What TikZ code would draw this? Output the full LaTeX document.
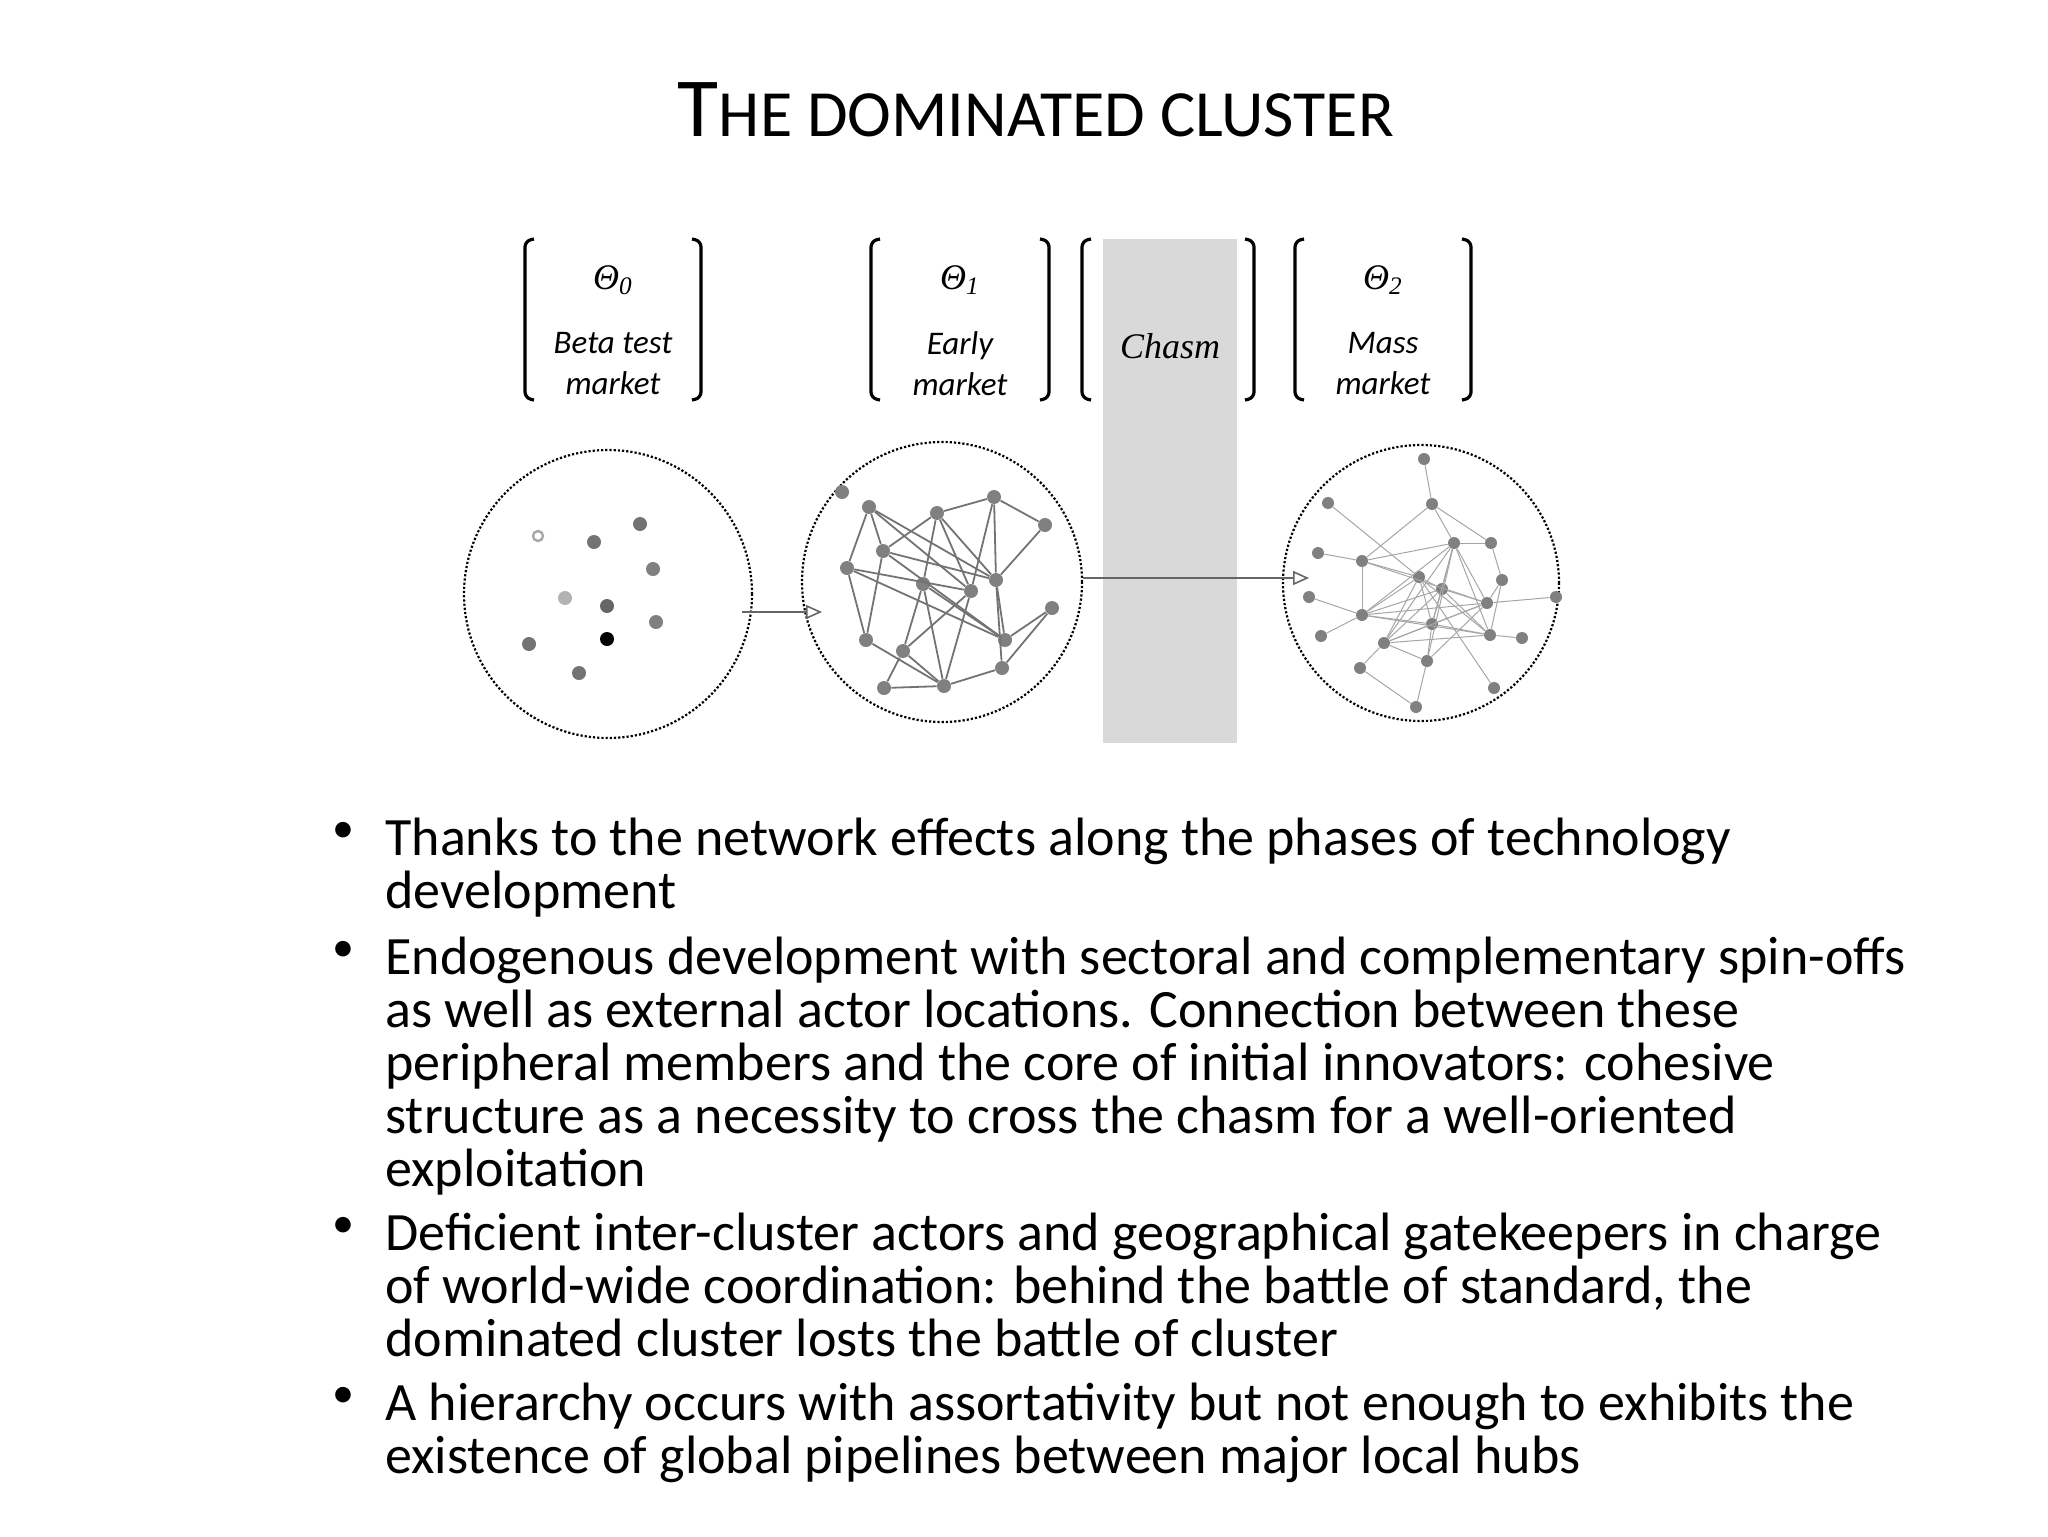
\documentclass[tikz,border=0pt]{standalone}
\usepackage{fontspec}
\setmainfont{Carlito}
\newfontfamily\thetafont{Liberation Serif}
\usetikzlibrary{arrows.meta}
\tikzset{
  dot/.style={circle,fill=black!50,inner sep=0pt,minimum size=7pt},
  sdot/.style={circle,fill=black!50,inner sep=0pt,minimum size=6pt},
  cloud/.style={circle,draw,densely dotted,line width=1.1pt,inner sep=0pt},
  brk/.style={line width=1.6pt,rounded corners=3pt},
  flow/.style={draw=black!60,line width=0.8pt,-{Triangle[open,length=8pt,width=7pt]}},
  phase/.style={font=\fontsize{16.5}{20.5}\itshape,align=center},
  theta/.style={font=\fontsize{18}{20}\thetafont\itshape},
  bul/.style={anchor=north west,inner sep=0pt,align=left,font=\fontsize{27}{26.4}\selectfont}
}
\begin{document}
\begin{tikzpicture}[x=0.5pt,y=0.5pt,yscale=-1,xscale=1]
\useasboundingbox (0,0) rectangle (2048,1536);

% Title
\node (title) at (1036,110) {\fontsize{42}{46}\selectfont T\fontsize{33}{36}\selectfont HE DOMINATED CLUSTER};

%Shape: Chasm band
\fill[black!15] (1103,239) rectangle (1237,743);

% Brackets
\foreach \l/\r in {525/701,871/1049,1082/1254,1295/1471}{
  \draw[brk] (\l+9,239) -- (\l,241) -- (\l,398) -- (\l+9,400);
  \draw[brk] (\r-9,239) -- (\r,241) -- (\r,398) -- (\r-9,400);
}
% Text Node
\node[theta] (th0) at (613,280) {Θ\textsubscript{0}};
\node[theta] (th1) at (960,280) {Θ\textsubscript{1}};
\node[theta] (th2) at (1383,280) {Θ\textsubscript{2}};
\node[phase] (beta) at (613,364) {Beta test\\market};
\node[phase] (early) at (960,364) {Early\\market};
\node[phase] (mass) at (1383,364) {Mass\\market};
\node[font=\fontsize{18}{20}\thetafont\itshape] (chasm) at (1170,346) {Chasm};

% Clouds
\node[cloud,minimum size=144pt] (c0) at (608,594) {};
\node[cloud,minimum size=140pt] (c1) at (942,582) {};
\node[cloud,minimum size=138pt] (c2) at (1421,583) {};
\coordinate (a0) at (742,612);
\coordinate (a1) at (822,612);
\coordinate (a2) at (1309,578);
\draw[flow] (a0) -- (a1);
\draw[flow] (c1.east |- a2) -- (a2);

% Beta test dots
\node[circle,draw=black!35,line width=1.2pt,inner sep=0pt,minimum size=5pt] (q1) at (538,536) {};
\foreach \n/\x/\y/\c in {2/594/542/55,3/640/524/55,4/653/569/50,5/565/598/30,6/607/606/60,7/656/622/50,8/529/644/55,9/607/639/100,10/579/673/55}
  \node[circle,fill=black!\c,inner sep=0pt,minimum size=7pt] (q\n) at (\x,\y) {};

% Early market network
\foreach \n/\x/\y in {a/842/492,b/869/507,c/937/513,d/994/497,e/1045/525,f/883/551,g/847/568,h/923/584,i/971/591,j/996/580,k/1052/608,l/866/640,m/903/651,n/1005/640,o/1002/668,p/884/688,q/944/686}
  \node[dot] (e\n) at (\x,\y) {};
\foreach \a/\b in {b/g,b/f,b/i,c/f,c/h,c/i,c/j,c/d,d/e,d/i,d/j,e/j,f/l,f/j,f/n,g/i,g/l,g/n,h/m,h/q,h/n,i/m,i/q,j/n,j/o,k/n,k/o,l/q,m/p,m/q,p/q,q/o,b/j}
  \draw[black!55,line width=0.9pt] (e\a) -- (e\b);

% Mass market network
\foreach \n/\x/\y in {A/1424/459,B/1328/503,C/1432/504,D/1454/543,E/1491/543,F/1318/553,G/1362/561,H/1502/580,I/1419/577,J/1442/589,K/1309/597,L/1487/603,M/1556/597,N/1362/615,O/1432/624,P/1490/635,Q/1522/638,R/1321/636,S/1384/643,T/1427/661,U/1360/668,V/1494/688,W/1416/707}
  \node[sdot] (m\n) at (\x,\y) {};
\foreach \a/\b in {A/C,B/I,C/G,C/D,C/E,D/E,E/H,H/L,L/M,F/G,G/D,G/I,G/N,G/L,K/N,N/R,N/D,N/J,N/L,N/O,N/P,N/I,S/D,S/J,S/I,S/O,S/P,S/T,S/L,O/D,O/J,O/P,O/I,O/L,O/T,J/D,J/L,J/P,J/I,I/P,I/V,D/L,D/P,P/Q,T/W,U/W,U/S,T/D,T/L,H/P}
  \draw[black!35,line width=0.5pt] (m\a) -- (m\b);

% Bullets
\node[bul,font=\fontsize{22}{26.4}\selectfont] (b1) at (332,822) {•};
\node[bul] (t1) at (385,818) {Thanks to the network effects along the phases of technology\\development};
\node[bul,font=\fontsize{22}{26.4}\selectfont] (b2) at (332,941) {•};
\node[bul] (t2) at (385,937) {Endogenous development with sectoral and complementary spin-offs\\as well as external actor locations. Connection between these\\peripheral members and the core of initial innovators: cohesive\\structure as a necessity to cross the chasm for a well-oriented\\exploitation};
\node[bul,font=\fontsize{22}{26.4}\selectfont] (b3) at (332,1217) {•};
\node[bul] (t3) at (385,1213) {Deficient inter-cluster actors and geographical gatekeepers in charge\\of world-wide coordination: behind the battle of standard, the\\dominated cluster losts the battle of cluster};
\node[bul,font=\fontsize{22}{26.4}\selectfont] (b4) at (332,1387) {•};
\node[bul] (t4) at (385,1383) {A hierarchy occurs with assortativity but not enough to exhibits the\\existence of global pipelines between major local hubs};
\end{tikzpicture}
\end{document}
